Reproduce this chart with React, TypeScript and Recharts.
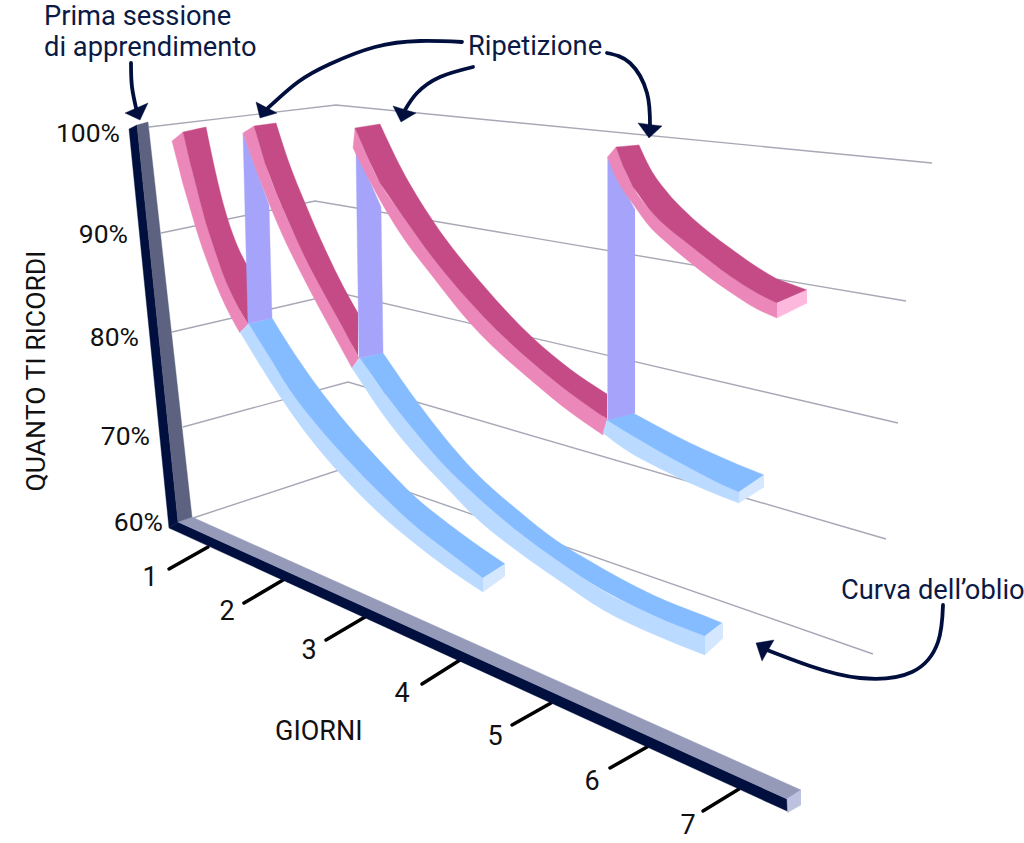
import React from 'react';
import { ComposedChart, Area, Line, Scatter, XAxis, YAxis } from 'recharts';

type Pt = [number, number];
type Row = [number, number, number]; // x, upper edge, lower edge

const WIDTH = 1024;
const HEIGHT = 843;

const NAVY = '#000f3d';
const INK = '#0b1a45';
const GRID = '#a7a8b6';
const RED_TOP = '#c44b85';
const RED_SIDE = '#ec88b9';
const RED_CAP = '#ffb8dd';
const BLUE_TOP = '#85bcff';
const BLUE_SIDE = '#bbdaff';
const BLUE_CAP = '#d4e7ff';
const VIOLET = '#a5a3fa';

const gridLines: Pt[][] = [
  [[149, 127], [336, 105], [932, 163]],
  [[161, 233], [315, 201], [906, 301]],
  [[172, 332], [340, 293], [898, 423]],
  [[183, 427], [348, 382], [886, 539]],
  [[193, 518], [342, 469], [873, 654]],
];

const dayTicks: Pt[][] = [
  [[169, 569], [208, 547]],
  [[244, 603], [283, 580]],
  [[326, 640], [365, 617]],
  [[422, 684], [460, 660]],
  [[512, 725], [551, 703]],
  [[610, 768], [647, 747]],
  [[703, 811], [739, 789]],
];

const dayLabels = ['1', '2', '3', '4', '5', '6', '7'];
const dayLabelPoints: Pt[] = [[150, 577], [227, 611], [309, 650], [402, 693], [495, 736], [592, 781], [688, 825]];
const recallLabels = ['100%', '90%', '80%', '70%', '60%'];
const recallLabelPoints: Pt[] = [[120, 132], [128, 233], [139, 336], [150, 435], [163, 521]];

const axisYDark: Pt[][] = [[[129, 129], [137, 125], [178, 522]], [[129, 129], [169, 528], [178, 522]]];
const axisYFace: Pt[][] = [[[137, 125], [148, 122], [192, 517]], [[137, 125], [178, 522], [192, 517]]];
const axisXFace: Pt[][] = [[[178, 522], [192, 517], [801, 790]], [[178, 522], [787, 799], [801, 790]]];
const axisXDark: Pt[][] = [[[169, 528], [178, 522], [787, 799], [789, 800]], [[169, 528], [789, 812]]];
const axisXCap: Pt[][] = [[[787, 799], [801, 790], [801, 805]], [[787, 799], [787.5, 812.5], [801, 805]]];

const bar1: Pt[][] = [[[243, 133], [269, 205], [272, 318]], [[243, 133], [248, 324], [272, 318]]];
const bar2: Pt[][] = [[[356, 150], [381, 207], [383, 353]], [[356, 150], [359, 358], [383, 353]]];
const bar3: Pt[][] = [[[607.5, 157], [635, 210]], [[607.5, 420], [635, 413]]];

const red1Face: Row[] = [[206, 127, 223], [215, 170, 251], [225, 210, 279], [235, 240, 301], [248, 267, 324]];
const red1Side: Row[] = [[183, 132, 184], [190, 162, 208], [200, 201, 241], [210, 236, 269], [220, 266, 294], [230, 291, 315], [240, 311, 333]];
const red1Tips: Pt[][][] = [
  [[[172, 141], [183, 132]], [[172, 141], [183, 184]]],
  [[[183, 132], [206, 127]], [[183, 132], [190, 162], [200, 201], [206, 223]]],
  [[[240, 311], [248, 324]], [[240, 333], [248, 324]]],
];

const red2Face: Row[] = [[276, 123, 192], [288, 160, 220], [305, 203, 257], [325, 249, 295], [343, 286, 328], [358, 313, 356]];
const red2Side: Row[] = [[254, 126, 164], [265, 163, 193], [282, 207, 234], [302, 250, 275], [322, 288, 313], [340, 323, 346], [352, 345, 368]];
const red2Tips: Pt[][][] = [
  [[[243, 133], [254, 126]], [[243, 133], [254, 164]]],
  [[[254, 126], [276, 123]], [[254, 126], [265, 163], [276, 192]]],
  [[[352, 345], [359, 358]], [[352, 368], [359, 358]]],
];

const red3Face: Row[] = [[380, 124, 183], [400, 166, 212], [433, 221, 258], [483, 285, 316], [533, 338, 363], [570, 369, 393], [607, 394, 419]];
const red3Side: Row[] = [[355, 128, 152], [380, 183, 200], [400, 212, 233], [433, 258, 277], [470, 302, 323], [533, 363, 382], [570, 393, 412], [603, 416, 435]];
const red3Tips: Pt[][][] = [
  [[[353, 148], [355, 128]], [[353, 148], [355, 152]]],
  [[[355, 128], [380, 124]], [[355, 128], [368, 158], [380, 183]]],
  [[[603, 416], [607, 419]], [[603, 435], [607, 419]]],
];

const red4Face: Row[] = [[639, 145, 195], [650, 168, 210], [667, 192, 227], [687, 213, 243], [710, 233, 261], [730, 248, 276], [757, 267, 293], [777, 279, 303]];
const red4Side: Row[] = [[616, 147, 178], [623, 166, 190], [633, 187, 204], [650, 210, 227], [667, 227, 243], [687, 243, 260], [710, 261, 278], [730, 276, 292], [757, 293, 309], [777, 303, 318]];
const red4Tips: Pt[][][] = [
  [[[607.5, 157], [616, 147]], [[607.5, 157], [616, 178]]],
  [[[616, 147], [639, 145]], [[616, 147], [623, 166], [633, 187], [639, 195]]],
  [[[777, 279], [807, 290]], [[777, 303], [807, 290]]],
];
const red4Cap: Pt[][] = [[[777, 303], [807, 290]], [[777, 318], [807, 303]]];

const blue1Face: Row[] = [[272, 318, 361], [290, 347, 390], [317, 386, 425], [347, 424, 459], [380, 461, 493], [413, 495, 524], [450, 525, 553], [483, 549, 578]];
const blue1Side: Row[] = [[249, 324, 347], [270, 358, 381], [290, 390, 411], [317, 425, 447], [347, 459, 481], [380, 493, 514], [413, 524, 542], [450, 553, 570], [483, 578, 592]];
const blue1Tips: Pt[][][] = [
  [[[240, 332], [249, 324]], [[240, 332], [249, 347]]],
  [[[249, 324], [272, 318]], [[249, 324], [272, 361]]],
  [[[483, 549], [505, 564]], [[483, 578], [505, 564]]],
];
const blue1Cap: Pt[][] = [[[483, 578], [505, 564]], [[483, 592], [505, 576]]];

const blue2Face: Row[] = [[383, 353, 391], [418, 403, 435], [445, 438, 466], [473, 470, 493], [520, 512, 533], [557, 541, 560], [588, 560, 581], [653, 595, 615], [705, 616, 636]];
const blue2Side: Row[] = [[360, 358, 380], [382, 390, 413], [407, 421, 445], [447, 468, 488], [473, 493, 515], [520, 533, 553], [557, 560, 579], [605, 592, 611], [653, 615, 634], [705, 636, 655]];
const blue2Tips: Pt[][][] = [
  [[[352, 368], [360, 358]], [[352, 368], [360, 380]]],
  [[[360, 358], [383, 353]], [[360, 358], [383, 391]]],
  [[[705, 616], [722, 623]], [[705, 636], [722, 623]]],
];
const blue2Cap: Pt[][] = [[[705, 636], [722, 623]], [[705, 655], [723, 638]]];

const blue3Face: Row[] = [[633, 413, 436], [657, 426, 450], [690, 443, 468], [723, 458, 485], [739, 465, 492]];
const blue3Side: Row[] = [[607, 420, 436], [623, 430, 448], [657, 450, 467], [690, 468, 483], [723, 485, 497], [739, 492, 503]];
const blue3Tips: Pt[][][] = [
  [[[603, 433], [607, 420]], [[603, 433], [607, 436]]],
  [[[607, 420], [633, 413]], [[607, 420], [623, 430], [633, 436]]],
  [[[739, 465], [764, 475]], [[739, 492], [764, 475]]],
];
const blue3Cap: Pt[][] = [[[739, 492], [764, 475]], [[739, 503], [764, 487]]];

const arrowShafts: Pt[][] = [
  [[131, 63], [132, 87], [137, 112]],
  [[462, 42], [420, 41], [375, 47], [330, 64], [298, 82], [268, 108]],
  [[473, 67], [440, 77], [417, 93], [405, 110]],
  [[607, 53], [630, 63], [647, 93], [650, 127]],
  [[943, 605], [938, 642], [912, 672], [860, 678], [810, 666], [767, 650]],
];
const arrowHeads: Pt[][][] = [
  [[[125, 113], [148, 103]], [[125, 113], [140, 120], [148, 103]]],
  [[[256, 102], [277, 113]], [[256, 102], [260, 118], [277, 113]]],
  [[[393, 106], [416, 113]], [[393, 106], [401, 122], [416, 113]]],
  [[[638, 123], [662, 126]], [[638, 123], [649, 138], [662, 126]]],
  [[[756, 643], [774, 640]], [[756, 643], [762, 661], [774, 640]]],
];

const noteLabels = ['Prima sessione', 'di apprendimento', 'Ripetizione', 'Curva dell’oblio'];
const noteLabelPoints: Pt[] = [[44, 16], [44, 47], [468, 46], [841, 590]];
const giorniLabel = 'GIORNI';
const giorniPoint: Pt = [275, 731];
const recallTitle = 'QUANTO TI RICORDI';
const recallTitlePoint: Pt = [35, 371];

const yAt = (chain: Pt[], x: number) => {
  if (x <= chain[0][0]) return chain[0][1];
  for (let i = 1; i < chain.length; i++) {
    const [x0, y0] = chain[i - 1];
    const [x1, y1] = chain[i];
    if (x <= x1) return y0 + ((y1 - y0) * (x - x0)) / (x1 - x0);
  }
  return chain[chain.length - 1][1];
};

// Area table for a flat polygon given as its upper and lower outlines.
const polygon = (outlines: Pt[][]) => {
  const [upper, lower] = outlines;
  const xs = [...new Set([...upper, ...lower].map((p) => p[0]))].sort((a, b) => a - b);
  return xs.map((x) => ({ x, range: [yAt(upper, x), yAt(lower, x)] }));
};
const bodyTable = (rows: Row[]) => rows.map(([x, up, low]) => ({ x, range: [up, low] }));
const points = (chain: Pt[]) => chain.map(([x, y]) => ({ x, y }));
const labelled = (texts: string[], at: Pt[]) => texts.map((text, i) => ({ x: at[i][0], y: at[i][1], text }));

const Piece = (key: string, fill: string, curve: 'linear' | 'monotone', data: any[]) => (
  <Area
    key={key}
    data={data}
    dataKey="range"
    type={curve}
    fill={fill}
    fillOpacity={1}
    stroke={fill}
    strokeWidth={0.4}
    dot={false}
    activeDot={false}
    isAnimationActive={false}
  />
);
const Flat = (key: string, fill: string, outlines: Pt[][]) => Piece(key, fill, 'linear', polygon(outlines));

// tips: the side's start, the face's start, then the short closing piece at the far end
const Ribbon = (name: string, faceColor: string, sideColor: string, face: Row[], side: Row[], tips: Pt[][][]) => [
  Piece(`${name}-side`, sideColor, 'monotone', bodyTable(side)),
  Flat(`${name}-side-tip`, sideColor, tips[0]),
  Piece(`${name}-face`, faceColor, 'monotone', bodyTable(face)),
  Flat(`${name}-face-tip`, faceColor, tips[1]),
  Flat(`${name}-end-tip`, name === 'red1' || name === 'red2' || name === 'red3' ? sideColor : faceColor, tips[2]),
];

const textShape = (anchor: string, size: number, color: string, rotate = 0) => (props: any) => {
  const { cx, cy, payload } = props;
  return (
    <text
      x={cx}
      y={cy}
      textAnchor={anchor}
      dominantBaseline="central"
      fontFamily="Roboto"
      fontSize={size}
      fill={color}
      transform={rotate ? `rotate(${rotate} ${cx} ${cy})` : undefined}
    >
      {payload.text}
    </text>
  );
};

const TextSeries = (key: string, data: any[], shape: any) => (
  <Scatter key={key} data={data} shape={shape} isAnimationActive={false} />
);

const App = () => (
  <div style={{ position: 'absolute', left: 0, top: 0, width: WIDTH, height: HEIGHT, background: '#fff' }}>
    <ComposedChart width={WIDTH} height={HEIGHT} margin={{ top: 0, right: 0, bottom: 0, left: 0 }}>
      <XAxis type="number" dataKey="x" domain={[0, WIDTH]} hide allowDataOverflow />
      <YAxis type="number" dataKey="y" domain={[0, HEIGHT]} reversed hide allowDataOverflow />

      {gridLines.map((g, i) => (
        <Line key={`grid-${i}`} data={points(g)} dataKey="y" stroke={GRID} strokeWidth={1.4} dot={false} activeDot={false} isAnimationActive={false} zIndex={50} />
      ))}
      {dayTicks.map((t, i) => (
        <Line key={`tick-${i}`} data={points(t)} dataKey="y" stroke="#000" strokeWidth={3.5} strokeLinecap="round" dot={false} activeDot={false} isAnimationActive={false} zIndex={50} />
      ))}

      {Flat('axis-x-dark', NAVY, axisXDark)}
      {Flat('axis-x-face', '#959ab9', axisXFace)}
      {Flat('axis-x-cap', '#bcc2e0', axisXCap)}
      {Flat('axis-y-dark', NAVY, axisYDark)}
      {Flat('axis-y-face', '#5c6280', axisYFace)}

      {Ribbon('red1', RED_TOP, RED_SIDE, red1Face, red1Side, red1Tips)}
      {Ribbon('blue1', BLUE_TOP, BLUE_SIDE, blue1Face, blue1Side, blue1Tips)}
      {Flat('blue1-cap', BLUE_CAP, blue1Cap)}
      {Flat('bar1', VIOLET, bar1)}

      {Ribbon('red2', RED_TOP, RED_SIDE, red2Face, red2Side, red2Tips)}
      {Ribbon('blue2', BLUE_TOP, BLUE_SIDE, blue2Face, blue2Side, blue2Tips)}
      {Flat('blue2-cap', BLUE_CAP, blue2Cap)}
      {Flat('bar2', VIOLET, bar2)}

      {Ribbon('red3', RED_TOP, RED_SIDE, red3Face, red3Side, red3Tips)}
      {Ribbon('blue3', BLUE_TOP, BLUE_SIDE, blue3Face, blue3Side, blue3Tips)}
      {Flat('blue3-cap', BLUE_CAP, blue3Cap)}
      {Flat('bar3', VIOLET, bar3)}

      {Ribbon('red4', RED_TOP, RED_SIDE, red4Face, red4Side, red4Tips)}
      {Flat('red4-cap', RED_CAP, red4Cap)}

      {arrowShafts.map((a, i) => (
        <Line key={`shaft-${i}`} data={points(a)} dataKey="y" type="natural" stroke={NAVY} strokeWidth={3.8} strokeLinecap="round" dot={false} activeDot={false} isAnimationActive={false} />
      ))}
      {arrowHeads.map((h, i) => Flat(`head-${i}`, NAVY, h))}

      {TextSeries('notes', labelled(noteLabels, noteLabelPoints), textShape('start', 27.3, INK))}
      {TextSeries('days', labelled(dayLabels, dayLabelPoints), textShape('middle', 27, '#111'))}
      {TextSeries('recall', labelled(recallLabels, recallLabelPoints), textShape('end', 26.5, '#111'))}
      {TextSeries('giorni', labelled([giorniLabel], [giorniPoint]), textShape('start', 27, '#111'))}
      {TextSeries('title', labelled([recallTitle], [recallTitlePoint]), textShape('middle', 26.6, '#111', -90))}
    </ComposedChart>
  </div>
);

export default App;
